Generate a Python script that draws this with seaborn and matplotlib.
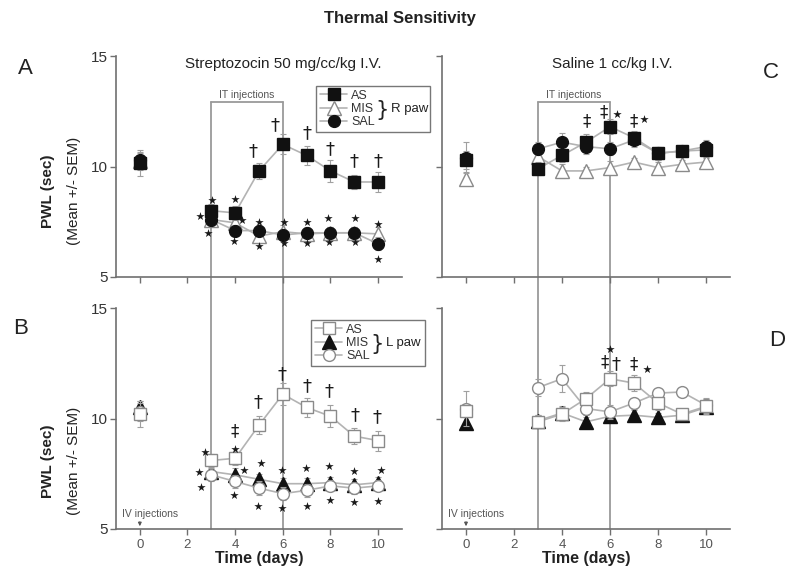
import matplotlib
matplotlib.use("Agg")
import matplotlib.pyplot as plt
from matplotlib.lines import Line2D
import seaborn as sns

# days with IT injections (day 0 is the IV baseline, plotted on its own)
days = [3, 4, 5, 6, 7, 8, 9, 10]

# Panel A: streptozocin, right paw
A_AS0, A_AS0_sem = 10.15, 0.6
A_AS = [8.0, 7.9, 9.8, 11.0, 10.5, 9.8, 9.3, 9.3]
A_AS_sem = [0.3, 0.3, 0.35, 0.45, 0.45, 0.5, 0.3, 0.45]
A_MIS0, A_MIS0_sem = 10.25, 0.4
A_MIS = [7.6, 7.45, 6.85, 7.05, 6.95, 7.0, 7.0, 6.95]
A_MIS_sem = [0.3, 0.3, 0.3, 0.3, 0.25, 0.25, 0.25, 0.3]
A_SAL0, A_SAL0_sem = 10.3, 0.3
A_SAL = [7.6, 7.1, 7.1, 6.9, 7.0, 7.0, 7.0, 6.5]
A_SAL_sem = [0.3, 0.25, 0.25, 0.25, 0.25, 0.25, 0.25, 0.3]

# Panel C: saline, right paw
C_AS0, C_AS0_sem = 10.3, 0.4
C_AS = [9.9, 10.5, 11.1, 11.8, 11.3, 10.6, 10.7, 10.75]
C_AS_sem = [0.3, 0.3, 0.35, 0.35, 0.3, 0.3, 0.2, 0.3]
C_MIS0, C_MIS0_sem = 9.45, 0.3
C_MIS = [10.45, 9.8, 9.8, 9.95, 10.2, 9.95, 10.1, 10.2]
C_MIS_sem = [0.3, 0.3, 0.2, 0.3, 0.2, 0.25, 0.2, 0.2]
C_SAL0, C_SAL0_sem = 10.4, 0.7
C_SAL = [10.8, 11.1, 10.9, 10.8, 11.2, 10.6, 10.7, 10.9]
C_SAL_sem = [0.3, 0.4, 0.35, 0.3, 0.3, 0.3, 0.2, 0.3]

# Panel B: streptozocin, left paw
B_AS0, B_AS0_sem = 10.2, 0.6
B_AS = [8.1, 8.2, 9.7, 11.1, 10.5, 10.1, 9.2, 9.0]
B_AS_sem = [0.3, 0.3, 0.4, 0.5, 0.45, 0.5, 0.35, 0.45]
B_MIS0, B_MIS0_sem = 10.5, 0.3
B_MIS = [7.6, 7.45, 7.25, 7.05, 7.05, 7.1, 7.0, 7.1]
B_MIS_sem = [0.3, 0.3, 0.25, 0.25, 0.25, 0.25, 0.25, 0.25]
B_SAL0, B_SAL0_sem = 10.3, 0.4
B_SAL = [7.45, 7.15, 6.85, 6.6, 6.75, 6.95, 6.85, 6.95]
B_SAL_sem = [0.3, 0.3, 0.3, 0.3, 0.3, 0.25, 0.25, 0.25]

# Panel D: saline, left paw
D_AS0, D_AS0_sem = 10.35, 0.3
D_AS = [9.85, 10.2, 10.9, 11.8, 11.6, 10.7, 10.2, 10.55]
D_AS_sem = [0.3, 0.3, 0.3, 0.35, 0.35, 0.3, 0.25, 0.35]
D_MIS0, D_MIS0_sem = 9.8, 0.25
D_MIS = [9.9, 10.25, 9.85, 10.1, 10.15, 10.05, 10.15, 10.5]
D_MIS_sem = [0.25, 0.3, 0.2, 0.25, 0.25, 0.2, 0.2, 0.3]
D_SAL0, D_SAL0_sem = 10.45, 0.8
D_SAL = [11.4, 11.8, 10.45, 10.3, 10.7, 11.15, 11.2, 10.6]
D_SAL_sem = [0.4, 0.6, 0.3, 0.3, 0.25, 0.2, 0.2, 0.35]

# significance marks (x, y)
A_stars = [(3.04, 8.5), (2.53, 7.74), (2.85, 6.98), (4.0, 8.53), (4.3, 7.6), (3.97, 6.64),
           (5.0, 7.5), (5.0, 6.42), (6.06, 7.5), (6.06, 6.53), (7.0, 7.5), (7.0, 6.56),
           (7.91, 7.67), (7.94, 6.6), (9.02, 7.67), (9.02, 6.6), (10.0, 7.4), (10.0, 5.8)]
A_dag = [(4.76, 10.7), (5.67, 11.86), (7.0, 11.5), (8.0, 10.77), (9.0, 10.24), (10.0, 10.24)]
A_ddag = []
B_stars = [(2.72, 8.49), (4.0, 8.64), (2.48, 7.59), (2.58, 6.88), (4.39, 7.68), (5.08, 7.98),
           (5.96, 7.68), (6.96, 7.75), (7.94, 7.86), (8.98, 7.63), (10.1, 7.66), (3.97, 6.55),
           (4.94, 6.02), (5.96, 5.97), (7.03, 6.05), (7.98, 6.3), (8.98, 6.23), (10.0, 6.27)]
B_dag = [(4.94, 10.72), (5.96, 12.0), (7.03, 11.48), (7.94, 11.25), (9.02, 10.15), (9.96, 10.05)]
B_ddag = [(4.0, 9.44)]
C_stars = [(6.28, 12.36), (7.42, 12.14)]
C_dag = []
C_ddag = [(5.02, 12.06), (5.72, 12.44), (6.97, 12.06)]
D_stars = [(6.0, 13.14), (7.53, 12.23)]
D_dag = [(6.25, 12.46)]
D_ddag = [(5.76, 12.56), (6.97, 12.46)]

LINE = "#b3b3b3"
ERR = "#a0a0a0"
DARK = "#111111"
OPEN = "#8a8a8a"

sns.set_style("ticks")
plt.rcParams["font.family"] = ["Liberation Sans", "DejaVu Sans"]

fig = plt.figure(figsize=(8, 5.8), dpi=100)
W, H = 800, 580


def box(l, t, r, b):
    return [l / W, 1 - b / H, (r - l) / W, (b - t) / H]


axA = fig.add_axes(box(116, 56, 402, 277))
axB = fig.add_axes(box(116, 308, 402, 529))
axC = fig.add_axes(box(442, 56, 730, 277))
axD = fig.add_axes(box(442, 308, 730, 529))

styles_R = {"AS": dict(marker="s", markersize=8.5, markerfacecolor=DARK, markeredgecolor=DARK),
            "MIS": dict(marker="^", markersize=9.5, markerfacecolor="white", markeredgecolor=OPEN),
            "SAL": dict(marker="o", markersize=8.5, markerfacecolor=DARK, markeredgecolor=DARK)}
styles_L = {"AS": dict(marker="s", markersize=8.5, markerfacecolor="white", markeredgecolor=OPEN),
            "MIS": dict(marker="^", markersize=9.5, markerfacecolor=DARK, markeredgecolor=DARK),
            "SAL": dict(marker="o", markersize=8.5, markerfacecolor="white", markeredgecolor=OPEN)}


def draw_series(ax, v0, s0, vals, sems, style, z):
    ax.errorbar([0] + days, [v0] + vals, yerr=[s0] + sems, fmt="none", ecolor=ERR,
                elinewidth=0.8, capsize=2.5, capthick=0.8, zorder=z - 0.5)
    sns.lineplot(x=days, y=vals, ax=ax, color=LINE, linewidth=1.2, errorbar=None,
                 markeredgewidth=1, zorder=z, **style)
    sns.lineplot(x=[0], y=[v0], ax=ax, color=LINE, errorbar=None,
                 markeredgewidth=1, zorder=z, **style)


panels = [
    (axA, styles_R, [(A_AS0, A_AS0_sem, A_AS, A_AS_sem, "AS"), (A_MIS0, A_MIS0_sem, A_MIS, A_MIS_sem, "MIS"),
                     (A_SAL0, A_SAL0_sem, A_SAL, A_SAL_sem, "SAL")], A_stars, A_dag, A_ddag),
    (axB, styles_L, [(B_AS0, B_AS0_sem, B_AS, B_AS_sem, "AS"), (B_MIS0, B_MIS0_sem, B_MIS, B_MIS_sem, "MIS"),
                     (B_SAL0, B_SAL0_sem, B_SAL, B_SAL_sem, "SAL")], B_stars, B_dag, B_ddag),
    (axC, styles_R, [(C_AS0, C_AS0_sem, C_AS, C_AS_sem, "AS"), (C_MIS0, C_MIS0_sem, C_MIS, C_MIS_sem, "MIS"),
                     (C_SAL0, C_SAL0_sem, C_SAL, C_SAL_sem, "SAL")], C_stars, C_dag, C_ddag),
    (axD, styles_L, [(D_AS0, D_AS0_sem, D_AS, D_AS_sem, "AS"), (D_MIS0, D_MIS0_sem, D_MIS, D_MIS_sem, "MIS"),
                     (D_SAL0, D_SAL0_sem, D_SAL, D_SAL_sem, "SAL")], D_stars, D_dag, D_ddag),
]

zorders = {"AS": 4, "MIS": 3, "SAL": 3.5}
for ax, styles, series, stars, dag, ddag in panels:
    for v0, s0, vals, sems, name in series:
        draw_series(ax, v0, s0, vals, sems, styles[name], zorders[name])
    if stars:
        ax.scatter([p[0] for p in stars], [p[1] for p in stars], marker="*", s=40,
                   color="#1a1a1a", linewidths=0, zorder=6, clip_on=False)
    for x, y in dag:
        ax.text(x, y, "\u2020", ha="center", va="center", fontsize=13, color="#1a1a1a",
                family=["DejaVu Sans"], zorder=6)
    for x, y in ddag:
        ax.text(x, y, "\u2021", ha="center", va="center", fontsize=12, color="#1a1a1a",
                family=["DejaVu Sans"], zorder=6)

    ax.set_xlim(-1, 11)
    ax.set_ylim(5, 15)
    ax.set_xticks([0, 2, 4, 6, 8, 10])
    ax.set_yticks([5, 10, 15])
    ax.set_xlabel("")
    ax.set_ylabel("")
    ax.patch.set_alpha(0)
    for side in ("top", "right"):
        ax.spines[side].set_visible(False)
    for side in ("left", "bottom"):
        ax.spines[side].set_color("#707070")
        ax.spines[side].set_linewidth(1.2)
    ax.tick_params(axis="both", direction="out", length=4, width=1, color="#707070")
    ax.tick_params(axis="y", labelsize=11, labelcolor="#333333", pad=2)
    ax.tick_params(axis="x", labelsize=9.5, labelcolor="#555555", pad=3)

for ax in (axA, axC):
    ax.tick_params(axis="x", labelbottom=False)
for ax in (axC, axD):
    ax.tick_params(axis="y", labelleft=False)
for ax in (axB, axD):
    ax.set_xlabel("Time (days)", fontsize=11.5, fontweight="bold", color="#222222", labelpad=0)
    ax.text(-0.75, 5.7, "IV injections", fontsize=7.5, color="#555555", ha="left", va="center")
    ax.annotate("", xy=(0, 5.0), xytext=(0, 5.45),
                arrowprops=dict(arrowstyle="-|>", color="#555555", lw=0.8, mutation_scale=5))

# IT injection bracket spanning top and bottom panels
def to_fig(ax, x, y):
    return fig.transFigure.inverted().transform(ax.transData.transform((x, y)))


for top, bot in ((axA, axB), (axC, axD)):
    x3, ytop = to_fig(top, 3, 12.9)
    x6, _ = to_fig(top, 6, 12.9)
    _, ybot = to_fig(bot, 3, 5)
    for xx in (x3, x6):
        fig.add_artist(Line2D([xx, xx], [ytop, ybot], transform=fig.transFigure,
                              color="#9a9a9a", lw=1.3, zorder=-1))
    fig.add_artist(Line2D([x3, x6], [ytop, ytop], transform=fig.transFigure,
                          color="#9a9a9a", lw=1.3, zorder=-1))
    top.text(4.5, 13.25, "IT injections", ha="center", va="center", fontsize=7.5, color="#555555")

# legends
def make_legend(ax, styles, anchor, paw):
    handles = [Line2D([], [], color=LINE, lw=1.2, markeredgewidth=1, **styles[k]) for k in ("AS", "MIS", "SAL")]
    left, top, width = anchor
    leg = ax.legend(handles, ["AS", "MIS", "SAL"], loc="upper left", mode="expand",
                    bbox_to_anchor=(left / W, 1 - (top + 49) / H, width / W, 49 / H),
                    bbox_transform=fig.transFigure, frameon=True, fancybox=False, framealpha=1,
                    edgecolor="#777777", fontsize=9, handlelength=2.2, handletextpad=0.3,
                    borderpad=0.3, labelspacing=0.1, borderaxespad=0)
    leg.get_frame().set_linewidth(1)
    for t in leg.get_texts():
        t.set_color("#333333")
    mis = leg.get_texts()[1]
    brace = ax.annotate("}", xy=(1, 0.45), xycoords=mis, xytext=(1.5, 0), textcoords="offset points",
                        ha="left", va="center", fontsize=15, color="#222222", zorder=7,
                        family=["DejaVu Sans"])
    ax.annotate(paw, xy=(1, 0.55), xycoords=brace, xytext=(1.5, 0), textcoords="offset points",
                ha="left", va="center", fontsize=9.5, color="#222222", zorder=7)


make_legend(axA, styles_R, (316, 86, 114), "R paw")
make_legend(axB, styles_L, (311, 320, 114), "L paw")

# texts
fig.text(0.5, 1 - 18 / H, "Thermal Sensitivity", ha="center", va="center", fontsize=12,
         fontweight="bold", color="#222222")
axA.text(0.584, 0.965, "Streptozocin 50 mg/cc/kg I.V.", transform=axA.transAxes, ha="center",
         va="center", fontsize=11, color="#222222")
axC.text(0.59, 0.965, "Saline 1 cc/kg I.V.", transform=axC.transAxes, ha="center",
         va="center", fontsize=11, color="#222222")
for (x, y), letter in zip([(25, 68), (21, 328), (771, 73), (777, 340)], "ABCD"):
    fig.text(x / W, 1 - y / H, letter, ha="center", va="center", fontsize=16, color="#222222")
for yc in (191, 461):
    fig.text(48 / W, 1 - yc / H, "PWL (sec)", rotation=90, ha="center", va="center",
             fontsize=11, fontweight="bold", color="#222222")
    fig.text(74 / W, 1 - yc / H, "(Mean +/- SEM)", rotation=90, ha="center", va="center",
             fontsize=11, color="#222222")

fig.canvas.draw()
fig.savefig("out.png", dpi=100)
